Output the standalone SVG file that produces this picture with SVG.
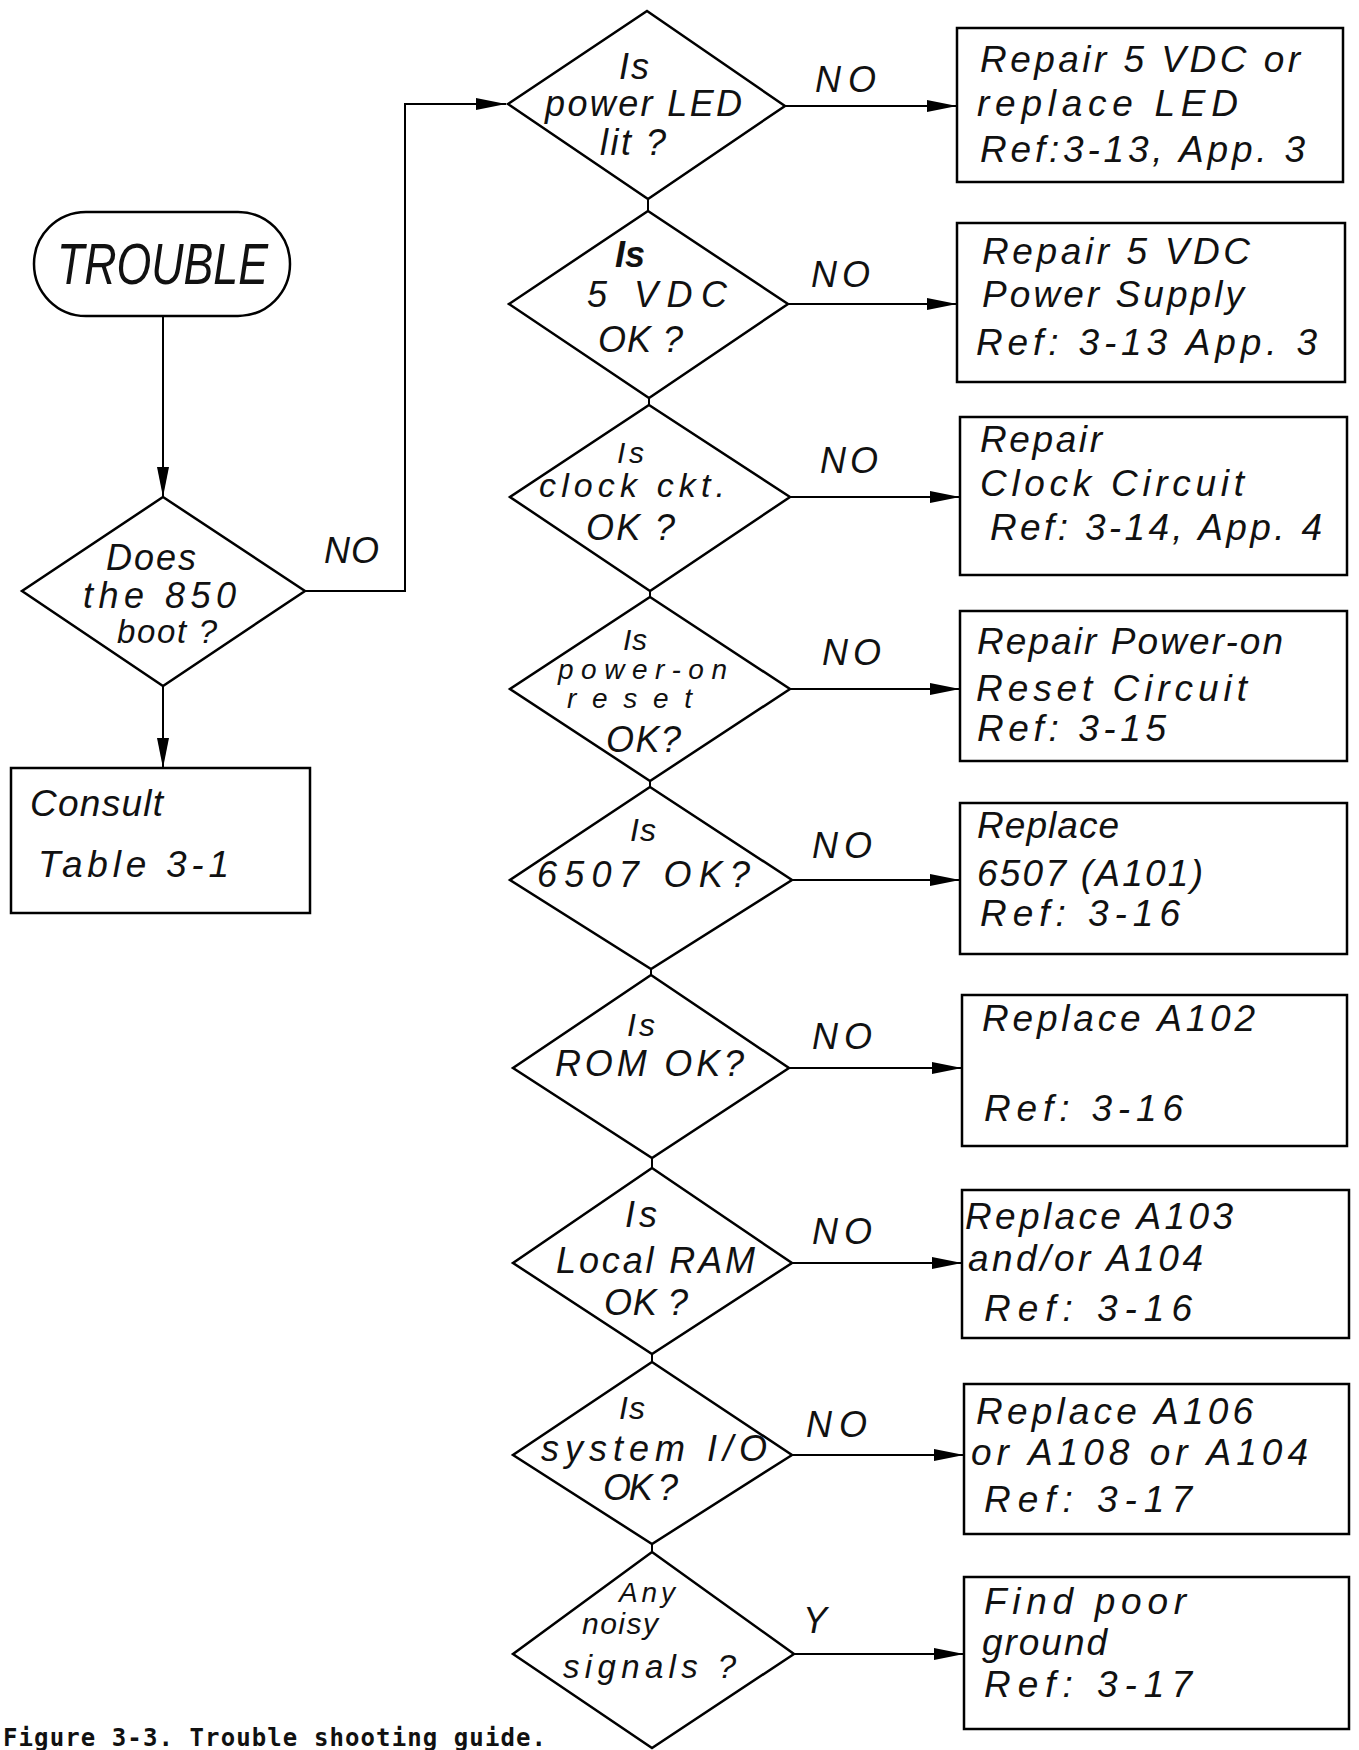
<svg xmlns="http://www.w3.org/2000/svg" width="1359" height="1750" viewBox="0 0 1359 1750">
<style>
.t{font-family:"Liberation Sans","DejaVu Sans",sans-serif;font-style:italic;fill:#111;font-size:37px}
.d{font-size:36px}
.cap{font-family:"DejaVu Sans Mono","Liberation Mono",monospace;font-weight:bold;font-size:24px;fill:#111}
.shape{fill:#fff;stroke:#000;stroke-width:2.5}
.conn{fill:none;stroke:#000;stroke-width:2}
</style>
<defs>
<marker id="ah" viewBox="0 0 30 12" refX="30" refY="6" markerWidth="30" markerHeight="12" markerUnits="userSpaceOnUse" orient="auto">
<path d="M0,0 L30,6 L0,12 z" fill="#000"/>
</marker>
</defs>
<rect width="1359" height="1750" fill="#fff"/>

<g id="connectors">
<line class="conn" x1="163" y1="316" x2="163" y2="497" marker-end="url(#ah)"/>
<line class="conn" x1="163" y1="686" x2="163" y2="768" marker-end="url(#ah)"/>
<polyline class="conn" points="305,591 405,591 405,104 506,104" marker-end="url(#ah)"/>
<line class="conn" x1="648" y1="199" x2="648" y2="211"/>
<line class="conn" x1="649" y1="398" x2="649" y2="405"/>
<line class="conn" x1="650" y1="591" x2="650" y2="597"/>
<line class="conn" x1="650" y1="781" x2="650" y2="787"/>
<line class="conn" x1="651" y1="969" x2="651" y2="975"/>
<line class="conn" x1="652" y1="1158" x2="652" y2="1168"/>
<line class="conn" x1="652" y1="1354" x2="652" y2="1362"/>
<line class="conn" x1="652" y1="1544" x2="652" y2="1552"/>
<line class="conn" x1="785" y1="106" x2="957" y2="106" marker-end="url(#ah)"/>
<line class="conn" x1="788" y1="304" x2="957" y2="304" marker-end="url(#ah)"/>
<line class="conn" x1="790" y1="497" x2="960" y2="497" marker-end="url(#ah)"/>
<line class="conn" x1="790" y1="689" x2="960" y2="689" marker-end="url(#ah)"/>
<line class="conn" x1="792" y1="880" x2="960" y2="880" marker-end="url(#ah)"/>
<line class="conn" x1="789" y1="1068" x2="962" y2="1068" marker-end="url(#ah)"/>
<line class="conn" x1="792" y1="1263" x2="962" y2="1263" marker-end="url(#ah)"/>
<line class="conn" x1="792" y1="1455" x2="964" y2="1455" marker-end="url(#ah)"/>
<line class="conn" x1="794" y1="1654" x2="964" y2="1654" marker-end="url(#ah)"/>
<text class="t d" x="324" y="563" textLength="55" lengthAdjust="spacing">NO</text>
<text class="t d" x="815" y="92" textLength="61" lengthAdjust="spacing">NO</text>
<text class="t d" x="811" y="287" textLength="59" lengthAdjust="spacing">NO</text>
<text class="t d" x="820" y="473" textLength="58" lengthAdjust="spacing">NO</text>
<text class="t d" x="822" y="665" textLength="59" lengthAdjust="spacing">NO</text>
<text class="t d" x="812" y="858" textLength="60" lengthAdjust="spacing">NO</text>
<text class="t d" x="812" y="1049" textLength="60" lengthAdjust="spacing">NO</text>
<text class="t d" x="812" y="1244" textLength="60" lengthAdjust="spacing">NO</text>
<text class="t d" x="806" y="1437" textLength="61" lengthAdjust="spacing">NO</text>
<text class="t d" x="803" y="1633">Y</text>
</g>

<g id="trouble">
<rect class="shape" x="34" y="212" width="256" height="104" rx="52" ry="52"/>
<text class="t" x="57" y="284" style="font-size:58px" textLength="211" lengthAdjust="spacingAndGlyphs">TROUBLE</text>
</g>

<g id="boot">
<polygon class="shape" points="163,497 305,591 163,686 22,591"/>
<text class="t d" x="106" y="570" textLength="90" lengthAdjust="spacing">Does</text>
<text class="t d" x="83" y="608" textLength="153" lengthAdjust="spacing">the 850</text>
<text class="t" x="117" y="643" style="font-size:33px" textLength="100" lengthAdjust="spacing">boot ?</text>
</g>

<g id="consult">
<rect class="shape" x="11" y="768" width="299" height="145"/>
<text class="t" x="30" y="816" textLength="133" lengthAdjust="spacing">Consult</text>
<text class="t" x="38" y="877" textLength="191" lengthAdjust="spacing">Table 3-1</text>
</g>

<g id="q1">
<polygon class="shape" points="647,11 785,106 648,199 508,104"/>
<text class="t d" x="619" y="79" textLength="30" lengthAdjust="spacing">Is</text>
<text class="t d" x="545" y="116" textLength="197" lengthAdjust="spacing">power LED</text>
<text class="t d" x="600" y="155" textLength="66" lengthAdjust="spacing">lit ?</text>
</g>
<g id="q2">
<polygon class="shape" points="648,211 788,304 649,398 509,304"/>
<text class="t d" x="615" y="267" font-weight="bold" textLength="30" lengthAdjust="spacing">Is</text>
<text class="t d" x="587" y="307" textLength="140" lengthAdjust="spacing">5 VDC</text>
<text class="t d" x="598" y="352" textLength="85" lengthAdjust="spacing">OK ?</text>
</g>
<g id="q3">
<polygon class="shape" points="649,405 790,497 650,591 510,497"/>
<text class="t" x="617" y="463" style="font-size:30px" textLength="27" lengthAdjust="spacing">Is</text>
<text class="t" x="539" y="497" style="font-size:34px" textLength="186" lengthAdjust="spacing">clock ckt.</text>
<text class="t d" x="586" y="540" textLength="89" lengthAdjust="spacing">OK ?</text>
</g>
<g id="q4">
<polygon class="shape" points="650,597 790,689 650,781 510,689"/>
<text class="t" x="623" y="650" style="font-size:30px" textLength="24" lengthAdjust="spacing">Is</text>
<text class="t" x="558" y="679" style="font-size:28px" textLength="169" lengthAdjust="spacing">power-on</text>
<text class="t" x="567" y="708" style="font-size:28px" textLength="125" lengthAdjust="spacing">reset</text>
<text class="t d" x="606" y="752" textLength="75" lengthAdjust="spacing">OK?</text>
</g>
<g id="q5">
<polygon class="shape" points="650,787 792,880 651,969 510,880"/>
<text class="t" x="630" y="841" style="font-size:32px" textLength="26" lengthAdjust="spacing">Is</text>
<text class="t d" x="537" y="887" textLength="213" lengthAdjust="spacing">6507 OK?</text>
</g>
<g id="q6">
<polygon class="shape" points="651,975 789,1068 652,1158 513,1068"/>
<text class="t" x="627" y="1036" style="font-size:32px" textLength="28" lengthAdjust="spacing">Is</text>
<text class="t d" x="555" y="1076" textLength="189" lengthAdjust="spacing">ROM OK?</text>
</g>
<g id="q7">
<polygon class="shape" points="652,1168 792,1263 652,1354 513,1263"/>
<text class="t d" x="625" y="1227" textLength="32" lengthAdjust="spacing">Is</text>
<text class="t d" x="556" y="1273" textLength="199" lengthAdjust="spacing">Local RAM</text>
<text class="t d" x="604" y="1315" textLength="84" lengthAdjust="spacing">OK ?</text>
</g>
<g id="q8">
<polygon class="shape" points="652,1362 792,1455 652,1544 513,1455"/>
<text class="t" x="619" y="1419" style="font-size:32px" textLength="26" lengthAdjust="spacing">Is</text>
<text class="t d" x="541" y="1461" textLength="226" lengthAdjust="spacing">system I/O</text>
<text class="t d" x="603" y="1500" textLength="75" lengthAdjust="spacing">OK ?</text>
</g>
<g id="q9">
<polygon class="shape" points="652,1552 794,1654 652,1748 513,1654"/>
<text class="t" x="619" y="1602" style="font-size:28px" textLength="56" lengthAdjust="spacing">Any</text>
<text class="t" x="582" y="1634" style="font-size:30px" textLength="76" lengthAdjust="spacing">noisy</text>
<text class="t" x="563" y="1678" style="font-size:33px" textLength="173" lengthAdjust="spacing">signals ?</text>
</g>

<g id="a1">
<rect class="shape" x="957" y="28" width="386" height="154"/>
<text class="t" x="980" y="72" textLength="320" lengthAdjust="spacing">Repair 5 VDC or</text>
<text class="t" x="977" y="116" textLength="261" lengthAdjust="spacing">replace LED</text>
<text class="t" x="980" y="162" textLength="325" lengthAdjust="spacing">Ref:3-13, App. 3</text>
</g>
<g id="a2">
<rect class="shape" x="957" y="223" width="388" height="159"/>
<text class="t" x="982" y="264" textLength="268" lengthAdjust="spacing">Repair 5 VDC</text>
<text class="t" x="982" y="307" textLength="262" lengthAdjust="spacing">Power Supply</text>
<text class="t" x="976" y="355" textLength="341" lengthAdjust="spacing">Ref: 3-13 App. 3</text>
</g>
<g id="a3">
<rect class="shape" x="960" y="417" width="387" height="158"/>
<text class="t" x="980" y="452" textLength="122" lengthAdjust="spacing">Repair</text>
<text class="t" x="980" y="496" textLength="264" lengthAdjust="spacing">Clock Circuit</text>
<text class="t" x="990" y="540" textLength="332" lengthAdjust="spacing">Ref: 3-14, App. 4</text>
</g>
<g id="a4">
<rect class="shape" x="960" y="611" width="387" height="150"/>
<text class="t" x="977" y="654" textLength="306" lengthAdjust="spacing">Repair Power-on</text>
<text class="t" x="976" y="701" textLength="271" lengthAdjust="spacing">Reset Circuit</text>
<text class="t" x="977" y="741" textLength="189" lengthAdjust="spacing">Ref: 3-15</text>
</g>
<g id="a5">
<rect class="shape" x="960" y="803" width="387" height="151"/>
<text class="t" x="977" y="838" textLength="142" lengthAdjust="spacing">Replace</text>
<text class="t" x="977" y="886" textLength="226" lengthAdjust="spacing">6507 (A101)</text>
<text class="t" x="980" y="926" textLength="200" lengthAdjust="spacing">Ref: 3-16</text>
</g>
<g id="a6">
<rect class="shape" x="962" y="995" width="385" height="151"/>
<text class="t" x="982" y="1031" textLength="273" lengthAdjust="spacing">Replace A102</text>
<text class="t" x="984" y="1121" textLength="199" lengthAdjust="spacing">Ref: 3-16</text>
</g>
<g id="a7">
<rect class="shape" x="962" y="1190" width="387" height="148"/>
<text class="t" x="965" y="1229" textLength="268" lengthAdjust="spacing">Replace A103</text>
<text class="t" x="968" y="1271" textLength="235" lengthAdjust="spacing">and/or A104</text>
<text class="t" x="984" y="1321" textLength="208" lengthAdjust="spacing">Ref: 3-16</text>
</g>
<g id="a8">
<rect class="shape" x="964" y="1384" width="385" height="150"/>
<text class="t" x="976" y="1424" textLength="277" lengthAdjust="spacing">Replace A106</text>
<text class="t" x="971" y="1465" textLength="337" lengthAdjust="spacing">or A108 or A104</text>
<text class="t" x="984" y="1512" textLength="208" lengthAdjust="spacing">Ref: 3-17</text>
</g>
<g id="a9">
<rect class="shape" x="964" y="1577" width="385" height="152"/>
<text class="t" x="984" y="1614" textLength="202" lengthAdjust="spacing">Find poor</text>
<text class="t" x="982" y="1655" textLength="125" lengthAdjust="spacing">ground</text>
<text class="t" x="984" y="1697" textLength="208" lengthAdjust="spacing">Ref: 3-17</text>
</g>

<text class="cap" x="3" y="1746" textLength="543" lengthAdjust="spacing">Figure 3-3. Trouble shooting guide.</text>
</svg>
